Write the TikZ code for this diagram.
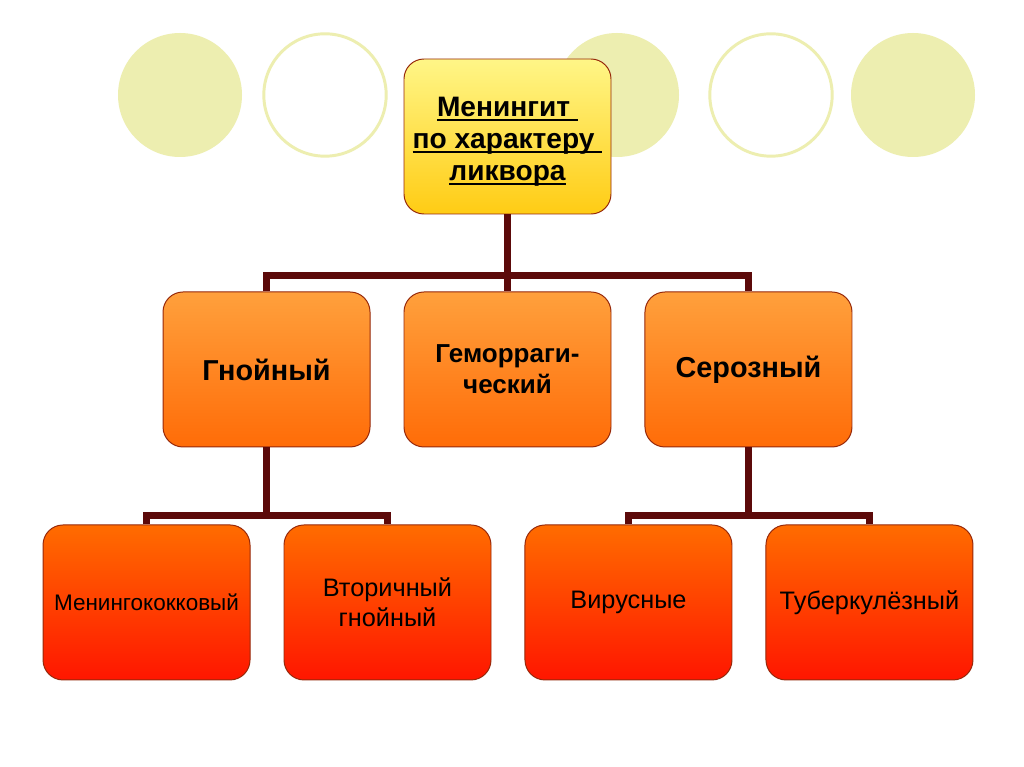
\documentclass[tikz,border=0pt]{standalone}
\usepackage{fontspec}
\setmainfont{Liberation Sans}
\usetikzlibrary{positioning}

\definecolor{ringcol}{RGB}{237,238,176}
\definecolor{wire}{RGB}{92,10,10}
\definecolor{edge}{RGB}{150,40,10}
\definecolor{headtop}{RGB}{255,246,135}
\definecolor{headbot}{RGB}{255,204,20}
\definecolor{midtop}{RGB}{255,160,60}
\definecolor{midbot}{RGB}{255,108,8}
\definecolor{lowtop}{RGB}{255,108,0}
\definecolor{lowbot}{RGB}{255,22,0}

\newcommand{\ulword}[1]{\setbox0\hbox{#1}\rlap{\rule[-3.4pt]{\wd0}{1.4pt}}\box0}

\begin{document}
\begin{tikzpicture}[
  node distance=1.925cm and 0.825cm,
  box/.style={draw=edge, line width=0.7pt, rounded corners=0.5cm, align=center,
              inner sep=2pt, minimum width=5.175cm, minimum height=3.875cm},
  head/.style={box, top color=headtop, bottom color=headbot,
               font=\fontsize{20}{22.7}\selectfont\bfseries},
  kind/.style={box, top color=midtop, bottom color=midbot,
               font=\fontsize{20.5}{22}\selectfont\bfseries},
  sub/.style={box, top color=lowtop, bottom color=lowbot,
              font=\fontsize{18}{21}\selectfont},
  conn/.style={wire, line width=5pt},
  ring/.style={ringcol, line width=2.1pt},
]
\fill[white] (0,0) rectangle (25.6,-19.175);
\useasboundingbox (0,0) rectangle (25.6,-19.175);
% ---- background: row of circles -------------------------------------
\fill[ringcol] (4.5,-2.375) circle (1.55);
\draw[ring] (8.125,-2.375) circle (1.53);
\fill[ringcol] (15.425,-2.375) circle (1.55);
\draw[ring] (19.275,-2.375) circle (1.53);
\fill[ringcol] (22.825,-2.375) circle (1.55);
% ---- root -------------------------------------------------------------
\node[head] (root) at (12.6875,-3.4125)
  {\rule{0pt}{21pt}\ulword{Менингит~}\\\ulword{по характеру~}\\\ulword{ликвора}};
% ---- second level -----------------------------------------------------
\node[kind, below=of root, font=\fontsize{18.5}{22}\selectfont\bfseries] (hem)
  {Геморраги-\\ческий};
\node[kind, left=of hem]   (pus) {Гнойный};
\node[kind, right=of hem]  (ser) {Серозный};
% ---- third level ------------------------------------------------------
\node[sub, below=of pus, xshift=-3cm, font=\fontsize{16}{20}\selectfont] (mening)
  {Менингококковый};
\node[sub, right=of mening] (second) {Вторичный\\гнойный};
\node[sub, below=of ser, xshift=-3cm] (viral) {Вирусные};
\node[sub, right=of viral] (tuber) {Туберкулёзный};
% ---- connectors -------------------------------------------------------
\draw[conn] (root.south) -- ++(0,-1.525) coordinate (fork);
\draw[conn] (pus.north) |- (fork) -| (ser.north);
\draw[conn] (fork) -- (hem.north);
\draw[conn] (pus.south) -- ++(0,-1.7) coordinate (forkL);
\draw[conn] (mening.north) |- (forkL) -| (second.north);
\draw[conn] (ser.south) -- ++(0,-1.7) coordinate (forkR);
\draw[conn] (viral.north) |- (forkR) -| (tuber.north);
\end{tikzpicture}
\end{document}
